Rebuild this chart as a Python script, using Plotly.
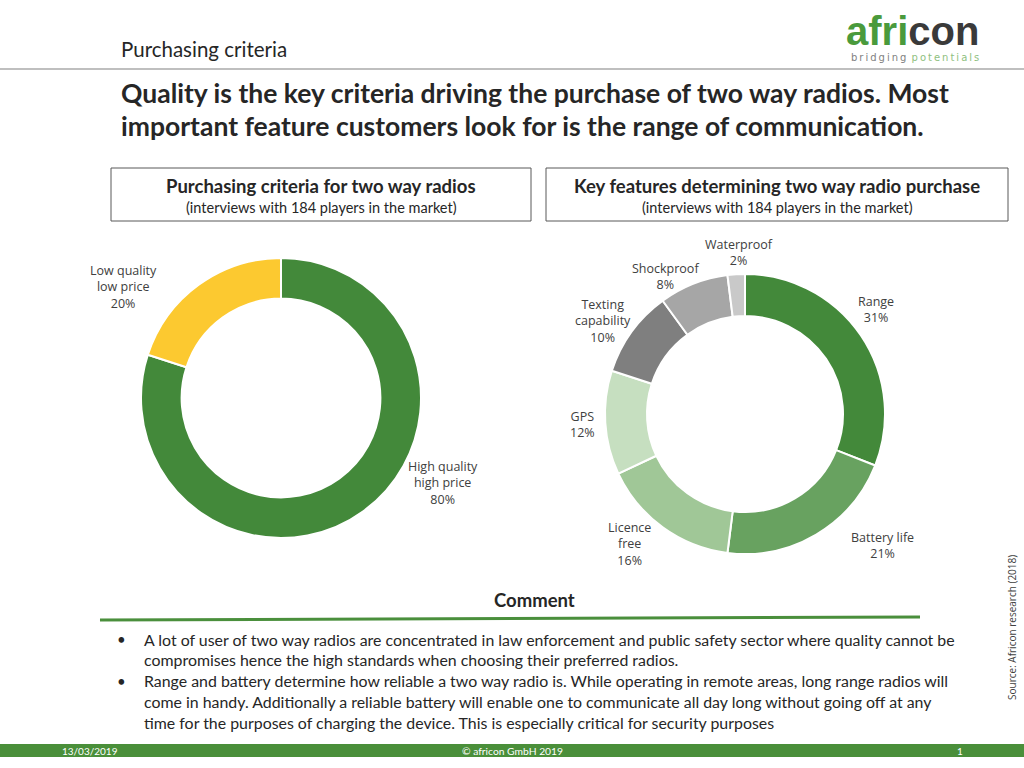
import plotly.graph_objects as go

# chart data
criteria_labels = ["High quality<br>high price", "Low quality<br>low price"]
criteria_values = [80, 20]
criteria_colors = ["#43893a", "#fcc930"]

feature_labels = ["Range", "Battery life", "Licence<br>free", "GPS",
                  "Texting<br>capability", "Shockproof", "Waterproof"]
feature_values = [31, 21, 16, 12, 10, 8, 2]
feature_colors = ["#43893a", "#68a260", "#a0c797", "#c6dfc0",
                  "#7f7f7f", "#a6a6a6", "#c9c9c9"]

comment_lines = [
    ("A lot of user of two way radios are concentrated in law enforcement and public safety sector where quality cannot be", True),
    ("compromises hence the high standards when choosing their preferred radios.", False),
    ("Range and battery determine how reliable a two way radio is. While operating in remote areas, long range radios will", True),
    ("come in handy. Additionally a reliable battery will enable one to communicate all day long without going off at any", False),
    ("time for the purposes of charging the device. This is especially critical for security purposes", False),
]

# label anchor points (pixel centre of each outside label)
criteria_label_pos = [(443, 483), (123, 287)]
feature_label_pos = [(876, 309), (882, 545), (629, 544), (582, 424),
                     (603, 321), (665, 277), (739, 252)]

W, H = 1024, 768
FONT = "Lato"
TEXT = "#262626"


def px(x):
    return x / W


def py(y):
    return 1 - y / H


fig = go.Figure()

fig.add_trace(go.Pie(
    labels=criteria_labels,
    values=criteria_values,
    marker=dict(colors=criteria_colors, line=dict(color="white", width=2)),
    hole=0.71,
    sort=False,
    direction="clockwise",
    rotation=0,
    textinfo="none",
    hoverinfo="label+percent",
    domain=dict(x=[px(141), px(421)], y=[py(538), py(258)]),
    showlegend=False,
))

fig.add_trace(go.Pie(
    labels=feature_labels,
    values=feature_values,
    marker=dict(colors=feature_colors, line=dict(color="white", width=2)),
    hole=0.70,
    sort=False,
    direction="clockwise",
    rotation=0,
    textinfo="none",
    hoverinfo="label+percent",
    domain=dict(x=[px(605), px(885)], y=[py(554), py(274)]),
    showlegend=False,
))

annotations = []


def add_text(x, y, text, size, color=TEXT, bold=False, xanchor="left",
             font=FONT, angle=0):
    if bold:
        text = "<b>" + text + "</b>"
    annotations.append(dict(
        x=px(x), y=py(y), xref="paper", yref="paper", text=text,
        showarrow=False, xanchor=xanchor, yanchor="middle", textangle=angle,
        font=dict(family=font, size=size, color=color),
    ))


# donut labels
total = sum(criteria_values)
for lab, val, (x, y) in zip(criteria_labels, criteria_values, criteria_label_pos):
    add_text(x, y, f"{lab}<br>{round(100 * val / total)}%", 12.5,
             color="#404040", xanchor="center", font="Open Sans")
total = sum(feature_values)
for lab, val, (x, y) in zip(feature_labels, feature_values, feature_label_pos):
    add_text(x, y, f"{lab}<br>{round(100 * val / total)}%", 12.5,
             color="#404040", xanchor="center", font="Open Sans")

# header
add_text(119, 49, "Purchasing criteria", 20.5)
add_text(119, 93, "Quality is the key criteria driving the purchase of two way radios. Most", 26.5, bold=True)
add_text(119, 126, "important feature customers look for is the range of communication.", 26.5, bold=True)
add_text(981, 31, "<b><span style='color:#4a9a3c'>afri</span><span style='color:#3a3a3a'>con</span></b>",
         40, xanchor="right", font="Liberation Sans")
spaced = "\u2009".join
add_text(981, 57, "<span style='color:#7f7f7f'>" + spaced("bridging") + "</span>\u2009 "
         "<span style='color:#8fbf80'>" + spaced("potentials") + "</span>",
         10, xanchor="right", font="DejaVu Sans")

# chart boxes
add_text(321, 186, "Purchasing criteria for two way radios", 18.5, bold=True, xanchor="center")
add_text(321, 207, "(interviews with 184 players in the market)", 14.5, xanchor="center")
add_text(777, 186, "Key features determining two way radio purchase", 18.5, bold=True, xanchor="center")
add_text(777, 207, "(interviews with 184 players in the market)", 14.5, xanchor="center")

# comment block
add_text(534, 600, "Comment", 18.5, bold=True, xanchor="center")
y = 639
for line, bullet in comment_lines:
    if bullet:
        add_text(115, y, "•", 15)
    add_text(142, y, line, 15.9)
    y += 20.8

# footer
add_text(60, 751, "13/03/2019", 10, color="white")
add_text(512, 751, "© africon GmbH 2019", 10.3, color="white", xanchor="center")
add_text(960, 751, "1", 10, color="white", xanchor="center")
add_text(1012, 628, "Source: Africon research (2018)", 10, color="#404040",
         xanchor="center", font="Open Sans", angle=-90)

shapes = [
    dict(type="line", x0=0, x1=1, y0=py(69), y1=py(69), xref="paper", yref="paper",
         line=dict(color="#bfbfbf", width=2)),
    dict(type="rect", x0=px(111), x1=px(531), y0=py(221), y1=py(168), xref="paper", yref="paper",
         line=dict(color="#595959", width=1)),
    dict(type="rect", x0=px(546), x1=px(1008), y0=py(221), y1=py(168), xref="paper", yref="paper",
         line=dict(color="#595959", width=1)),
    dict(type="line", x0=px(100), x1=px(920), y0=py(620), y1=py(617), xref="paper", yref="paper",
         line=dict(color="#4a8f3c", width=3)),
    dict(type="rect", x0=0, x1=1, y0=py(757), y1=py(744), xref="paper", yref="paper",
         line=dict(width=0), fillcolor="#4a8f3a"),
]

fig.update_layout(
    width=W, height=H,
    margin=dict(l=0, r=0, t=0, b=0),
    paper_bgcolor="white",
    plot_bgcolor="white",
    annotations=annotations,
    shapes=shapes,
    showlegend=False,
)

# drop the default page margin so the slide sits at the window's top-left corner
fig.write_html("out.html", config={"displayModeBar": False},
               post_script="document.body.style.margin = '0';")
